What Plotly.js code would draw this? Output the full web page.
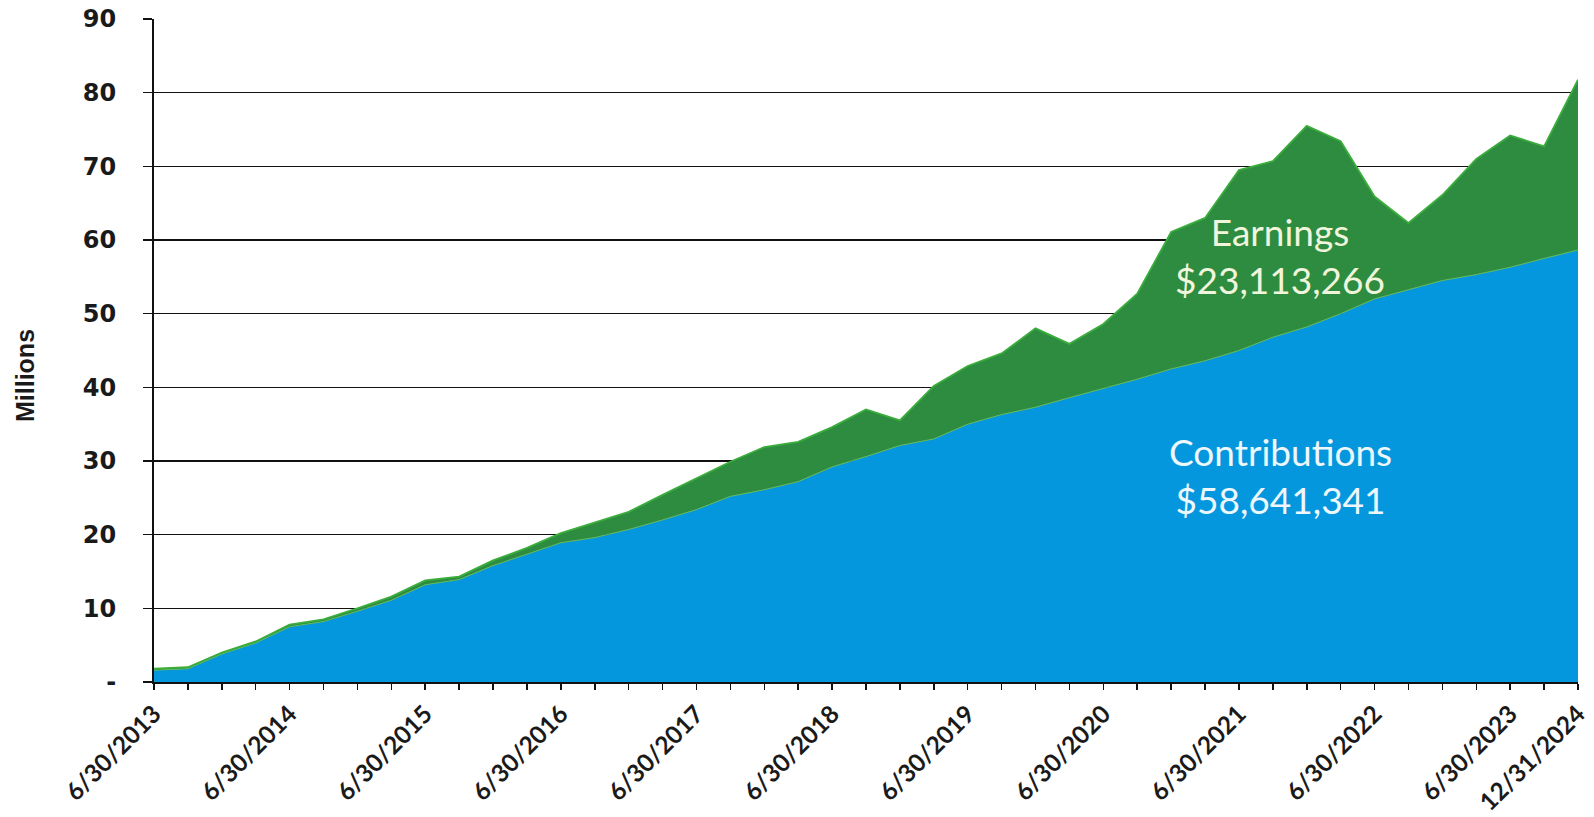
<!DOCTYPE html>
<html>
<head>
<meta charset="utf-8">
<script src="https://cdn.plot.ly/plotly-3.0.1.min.js"></script>
<style>
  html, body { margin: 0; padding: 0; background: #ffffff; }
  #chart { width: 1594px; height: 817px; }
</style>
</head>
<body>
<div id="chart"></div>
<script>
// Category dates (x axis)
const dates = [
  "6/30/2013","9/30/2013","12/31/2013","3/31/2014",
  "6/30/2014","9/30/2014","12/31/2014","3/31/2015",
  "6/30/2015","9/30/2015","12/31/2015","3/31/2016",
  "6/30/2016","9/30/2016","12/31/2016","3/31/2017",
  "6/30/2017","9/30/2017","12/31/2017","3/31/2018",
  "6/30/2018","9/30/2018","12/31/2018","3/31/2019",
  "6/30/2019","9/30/2019","12/31/2019","3/31/2020",
  "6/30/2020","9/30/2020","12/31/2020","3/31/2021",
  "6/30/2021","9/30/2021","12/31/2021","3/31/2022",
  "6/30/2022","9/30/2022","12/31/2022","3/31/2023",
  "6/30/2023","12/31/2023","12/31/2024"
];

// Dates that carry a visible tick label
const labelledDates = [
  "6/30/2013","6/30/2014","6/30/2015","6/30/2016","6/30/2017","6/30/2018",
  "6/30/2019","6/30/2020","6/30/2021","6/30/2022","6/30/2023","12/31/2024"
];

// Contributions (millions of dollars)
const contributions = [
  1.6, 1.8, 3.8, 5.3, 7.5, 8.2, 9.6, 11.1, 13.2, 13.9, 15.8, 17.3,
  18.9, 19.6, 20.7, 22.0, 23.4, 25.2, 26.1, 27.2, 29.2, 30.6, 32.1, 33.0,
  35.0, 36.3, 37.3, 38.6, 39.8, 41.1, 42.5, 43.6, 45.0, 46.8, 48.2, 50.0,
  52.0, 53.2, 54.5, 55.3, 56.3, 57.5, 58.64
];

// Earnings (millions of dollars), stacked on contributions
const earnings = [
  0.2, 0.2, 0.2, 0.2, 0.3, 0.3, 0.4, 0.5, 0.6, 0.4, 0.7, 0.9,
  1.3, 2.0, 2.4, 3.4, 4.2, 4.7, 5.8, 5.4, 5.4, 6.4, 3.4, 7.2,
  7.9, 8.3, 10.7, 7.3, 8.8, 11.6, 18.6, 19.4, 24.5, 23.9, 27.3, 23.4,
  13.9, 9.1, 11.6, 15.7, 17.9, 15.2, 23.11
];

// Y tick values / labels
const yTickVals = [0, 10, 20, 30, 40, 50, 60, 70, 80, 90];
const yTickText = ["-", "10", "20", "30", "40", "50", "60", "70", "80", "90"];

const yTitle = "Millions";
const earningsLabel = "Earnings<br>$23,113,266";
const contributionsLabel = "Contributions<br>$58,641,341";

const traces = [
  {
    x: dates, y: contributions, name: "Contributions",
    type: "scatter", mode: "lines", stackgroup: "one",
    fillcolor: "#0597de",
    line: { color: "#5fb85a", width: 1 }
  },
  {
    x: dates, y: earnings, name: "Earnings",
    type: "scatter", mode: "lines", stackgroup: "one",
    fillcolor: "#2e8c40",
    line: { color: "#3aad3c", width: 1.8 }
  }
];

const layout = {
  width: 1594, height: 817,
  margin: { l: 154, r: 16, t: 19, b: 135 },
  paper_bgcolor: "#ffffff", plot_bgcolor: "#ffffff",
  showlegend: false,
  hovermode: false,
  xaxis: {
    type: "category",
    categoryorder: "array", categoryarray: dates,
    range: [0, dates.length - 1],
    tickmode: "array",
    tickvals: dates,
    ticktext: dates.map(d => labelledDates.includes(d) ? d : ""),
    tickangle: -45,
    ticks: "outside", ticklen: 6, tickwidth: 1.5, tickcolor: "#111",
    showline: true, linecolor: "#111", linewidth: 2,
    showgrid: false, zeroline: false,
    tickfont: { family: "Lato, 'Open Sans', sans-serif", size: 24.5, color: "#1a1a1a", weight: "bold" }
  },
  yaxis: {
    range: [0, 90],
    tickmode: "array", tickvals: yTickVals, ticktext: yTickText,
    ticks: "outside", ticklen: 9, tickwidth: 1.5, tickcolor: "#111",
    ticklabelstandoff: 22,
    showline: true, linecolor: "#111", linewidth: 2,
    showgrid: true, gridcolor: "#111", gridwidth: 1.6,
    zeroline: false,
    tickfont: { family: "'DejaVu Sans', Verdana, sans-serif", size: 24, color: "#1a1a1a", weight: "bold" }
  },
  annotations: [
    {
      xref: "paper", yref: "paper", x: -0.0906, y: 0.463,
      xanchor: "center", yanchor: "middle", showarrow: false,
      textangle: -90,
      text: yTitle,
      font: { family: "'Liberation Sans', Arial, sans-serif", size: 25, color: "#1a1a1a", weight: "bold" }
    },
    {
      xref: "paper", yref: "paper", x: 0.791, y: 0.643,
      xanchor: "center", yanchor: "middle", showarrow: false,
      text: earningsLabel, align: "center",
      font: { family: "Lato, 'Open Sans', sans-serif", size: 37, color: "#f0f5dc" }
    },
    {
      xref: "paper", yref: "paper", x: 0.791, y: 0.311,
      xanchor: "center", yanchor: "middle", showarrow: false,
      text: contributionsLabel, align: "center",
      font: { family: "Lato, 'Open Sans', sans-serif", size: 37, color: "#eef8fc" }
    }
  ]
};

Plotly.newPlot("chart", traces, layout, { displayModeBar: false, staticPlot: true });
</script>
</body>
</html>
